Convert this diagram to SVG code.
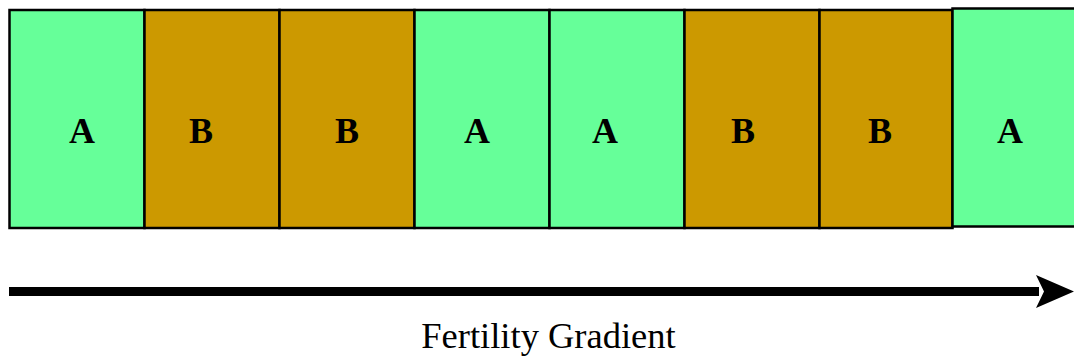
<svg xmlns="http://www.w3.org/2000/svg" width="1074" height="358" viewBox="0 0 1074 358">
<style>
.a{fill:#66FF99;stroke:#000;stroke-width:2.5}
.b{fill:#CC9900;stroke:#000;stroke-width:2.5}
.lbl{font-family:"Liberation Serif",serif;font-weight:bold;font-size:36px;text-anchor:middle;fill:#000}
.cap{font-family:"Liberation Serif",serif;font-size:36.5px;text-anchor:middle;fill:#000}
</style>
<rect width="1074" height="358" fill="#fff"/>
<g id="plot1"><rect class="a" x="9.5" y="10" width="135" height="218"/><text class="lbl" x="82" y="143">A</text></g>
<g id="plot2"><rect class="b" x="144.5" y="10" width="135" height="218"/><text class="lbl" x="201" y="143">B</text></g>
<g id="plot3"><rect class="b" x="279.5" y="10" width="135" height="218"/><text class="lbl" x="347" y="143">B</text></g>
<g id="plot4"><rect class="a" x="414.5" y="10" width="135" height="218"/><text class="lbl" x="477" y="143">A</text></g>
<g id="plot5"><rect class="a" x="549.5" y="10" width="135" height="218"/><text class="lbl" x="605" y="143">A</text></g>
<g id="plot6"><rect class="b" x="684.5" y="10" width="135" height="218"/><text class="lbl" x="743" y="143">B</text></g>
<g id="plot7"><rect class="b" x="819.5" y="10" width="133" height="218"/><text class="lbl" x="880" y="143">B</text></g>
<g id="plot8"><rect class="a" x="952.5" y="8.5" width="130" height="218"/><text class="lbl" x="1010" y="143">A</text></g>
<g id="connectors">
<rect x="9" y="287" width="1030" height="9" fill="#000"/>
<polygon points="1036,275 1074,291.5 1036,308 1044,291.5" fill="#000"/>
</g>
<text class="cap" x="548.5" y="348">Fertility Gradient</text>
</svg>
